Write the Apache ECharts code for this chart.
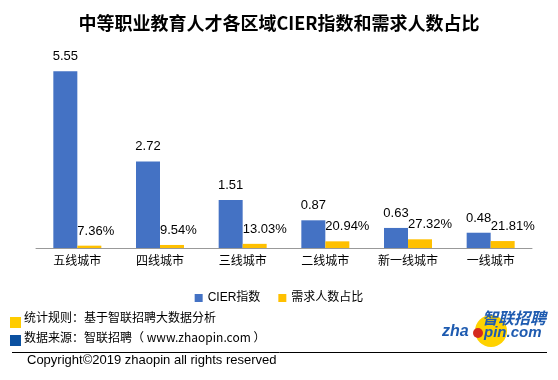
<!DOCTYPE html>
<html><head><meta charset="utf-8">
<script src="https://cdn.jsdelivr.net/npm/echarts@6/dist/echarts.min.js"></script>
<style>html,body{margin:0;padding:0;background:#fff}#c{width:558px;height:380px}</style>
</head><body><div id="c"></div>
<script>
const titleText = '中等职业教育人才各区域CIER指数和需求人数占比';
const categories = ['五线城市','四线城市','三线城市','二线城市','新一线城市','一线城市'];
const cierValues = [5.55, 2.72, 1.51, 0.87, 0.63, 0.48];
const demandPct = [7.36, 9.54, 13.03, 20.94, 27.32, 21.81];
const seriesNames = ['CIER指数', '需求人数占比'];
const footnote1 = '统计规则：基于智联招聘大数据分析';
const footnote2 = '数据来源：智联招聘（ www.zhaopin.com ）';
const copyright = 'Copyright©2019 zhaopin all rights reserved';

const FF = '"Liberation Sans", Arial, "Noto Sans CJK SC", sans-serif';
const chart = echarts.init(document.getElementById('c'), null, {renderer: 'canvas'});
chart.setOption({
  animation: false,
  backgroundColor: '#fff',
  textStyle: {fontFamily: FF},
  title: {
    text: titleText, left: 'center', top: 9,
    textStyle: {fontSize: 18, fontWeight: 'bold', color: '#000', fontFamily: '"Noto Sans CJK SC", sans-serif'}
  },
  legend: {
    data: seriesNames, left: 'center', top: 287,
    itemWidth: 8, itemHeight: 8, itemGap: 18, icon: 'rect',
    textStyle: {fontSize: 12, color: '#000', fontFamily: FF}
  },
  grid: {left: 36, right: 26, top: 57, bottom: 132},
  xAxis: {
    type: 'category', data: categories,
    axisLine: {lineStyle: {color: '#999'}},
    axisTick: {length: 5, lineStyle: {color: '#999'}},
    axisLabel: {fontSize: 12, color: '#000', margin: 8}
  },
  yAxis: [
    {type: 'value', min: 0, max: 6, show: false},
    {type: 'value', min: 0, max: 600, show: false}
  ],
  series: [
    {
      name: seriesNames[0], type: 'bar', yAxisIndex: 0, data: cierValues,
      barWidth: 24, barGap: '0%',
      itemStyle: {color: '#4472C4'},
      label: {show: true, position: 'top', distance: 8, fontSize: 13, color: '#000',
        formatter: p => p.value.toFixed(2)}
    },
    {
      name: seriesNames[1], type: 'bar', yAxisIndex: 1, data: demandPct,
      barWidth: 24, barGap: '0%',
      itemStyle: {color: '#FFC000'},
      label: {show: true, position: [0, -8], align: 'left', verticalAlign: 'bottom',
        fontSize: 13, color: '#000', formatter: p => p.value.toFixed(2) + '%'}
    }
  ],
  graphic: [
    {type: 'rect', left: 10, top: 317, shape: {width: 11, height: 11}, style: {fill: '#FFCC00'}},
    {type: 'rect', left: 10, top: 335, shape: {width: 11, height: 11}, style: {fill: '#0B50A0'}},
    {type: 'text', left: 24, top: 311, style: {text: footnote1, font: '12px "Noto Sans CJK SC", sans-serif', fill: '#000'}},
    {type: 'text', left: 24, top: 331, style: {text: footnote2, font: '12px "Noto Sans CJK SC", sans-serif', fill: '#000'}},
    {type: 'line', shape: {x1: 12, y1: 352.5, x2: 547, y2: 352.5}, style: {stroke: '#000', lineWidth: 1}},
    {type: 'text', left: 27, top: 354, style: {text: copyright, font: '13px "Liberation Sans", Arial, sans-serif', fill: '#000'}},
    {type: 'circle', shape: {cx: 491, cy: 331, r: 16}, style: {fill: '#FFD200'}},
    {type: 'text', left: 482, top: 310, style: {text: '智联招聘', font: 'italic bold 16px "Noto Sans CJK SC", sans-serif', fill: '#1E5BB0'}},
    {type: 'text', left: 442, top: 324, style: {text: 'zha', font: 'italic bold 16px "Liberation Sans", Arial, sans-serif', fill: '#1E5BB0'}},
    {type: 'circle', shape: {cx: 478, cy: 333, r: 5}, style: {fill: '#D42A1E'}},
    {type: 'text', left: 484, top: 325, style: {text: 'pin.com', font: 'italic bold 15px "Liberation Sans", Arial, sans-serif', fill: '#1E5BB0'}}
  ]
});
</script>
</body></html>
